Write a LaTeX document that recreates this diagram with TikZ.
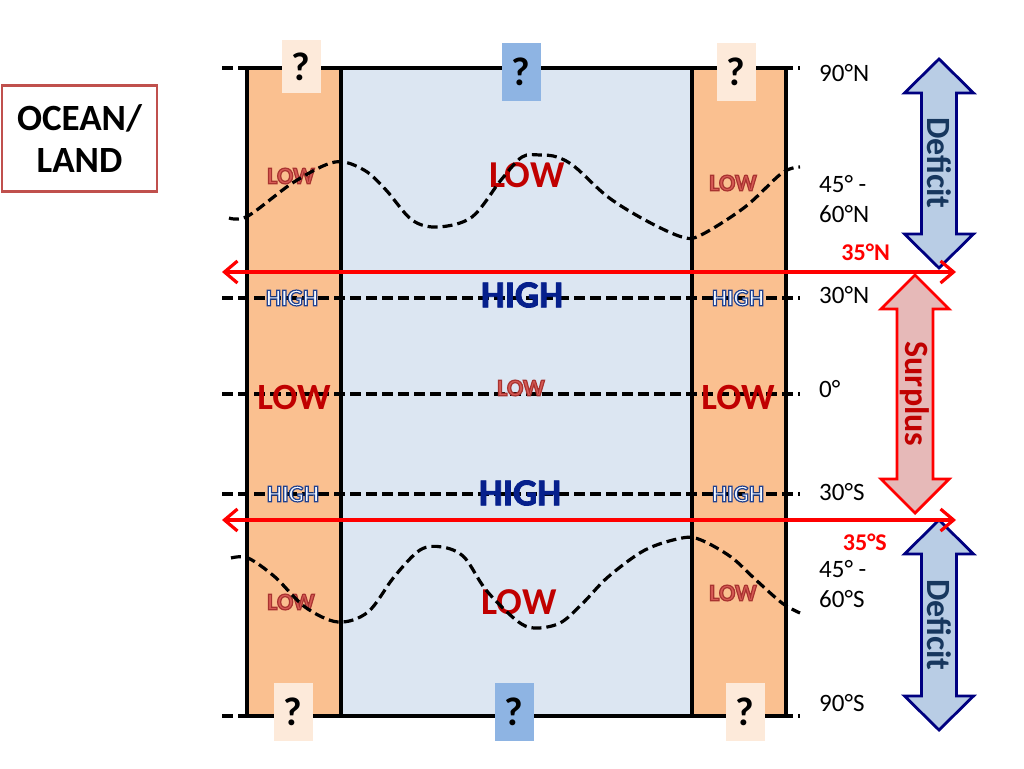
\documentclass[tikz,border=0pt]{standalone}
\usepackage{fontspec}
\setmainfont{Carlito}
\usetikzlibrary{arrows.meta}
\definecolor{land}{HTML}{FAC090}
\definecolor{ocean}{HTML}{DCE6F2}
\definecolor{qland}{HTML}{FDEADA}
\definecolor{qocean}{HTML}{8EB4E3}
\definecolor{darkred}{HTML}{C00000}
\definecolor{lowsm}{HTML}{D65A55}
\definecolor{highbig}{HTML}{06208C}
\definecolor{highin}{HTML}{F4F8FD}
\definecolor{defnavy}{HTML}{000080}
\definecolor{deffill}{HTML}{B9CDE5}
\definecolor{deftext}{HTML}{17375E}
\definecolor{surfill}{HTML}{E6B9B8}
\definecolor{boxred}{HTML}{C0504D}
\definecolor{redline}{HTML}{FF0000}

% outlined text: #1 stroke width, #2 stroke rgb, #3 fill colour, #4 text
\newcommand{\outltxt}[4]{{\color{#3}\special{pdf:literal direct #2 RG #1 w 2 Tr}#4\special{pdf:literal direct 0 Tr}}}

\newcommand{\blockarrow}[7]{% cx, top, bottom, head half width, shaft half width, head length, style
 \draw[#7] (#1,#2) -- ({#1+#4},{#2+#6}) -- ({#1+#5},{#2+#6}) -- ({#1+#5},{#3-#6})
   -- ({#1+#4},{#3-#6}) -- (#1,#3) -- ({#1-#4},{#3-#6}) -- ({#1-#5},{#3-#6})
   -- ({#1-#5},{#2+#6}) -- ({#1-#4},{#2+#6}) -- cycle;}

\begin{document}
\begin{tikzpicture}[x=1pt,y=-1pt,
  lbl/.style={inner sep=0pt,anchor=west,font=\fontsize{25}{30}\selectfont,align=left},
  lat/.style={inner sep=0pt,anchor=east,text=redline,font=\fontsize{24}{26}\selectfont\bfseries},
  dashln/.style={line width=3.2pt,dash pattern=on 11pt off 5pt},
  wave/.style={line width=3.2pt,dash pattern=on 10pt off 5pt,smooth,tension=0.55},
  border/.style={line width=3.2pt,black},
  bigtxt/.style={inner sep=0pt,font=\fontsize{38}{40}\selectfont\bfseries},
  smtxt/.style={inner sep=0pt,font=\fontsize{24}{26}\selectfont\bfseries},
  qland/.style={fill=qland,minimum width=39pt,inner sep=0pt,font=\fontsize{40}{40}\selectfont\bfseries},
  qocean/.style={fill=qocean,minimum width=39pt,inner sep=0pt,font=\fontsize{40}{40}\selectfont\bfseries},
  redarrow/.style={line width=3.2pt,redline,{Straight Barb[length=13pt,width=22pt]}-{Straight Barb[length=13pt,width=22pt]}},
  defarrow/.style={fill=deffill,draw=defnavy,line width=2.8pt,line join=miter},
  surarrow/.style={fill=surfill,draw=redline,line width=2.8pt,line join=miter},
  arrtxt/.style={inner sep=0pt,rotate=-90,font=\fontsize{34}{36}\selectfont\bfseries}]
\useasboundingbox (0,0) rectangle (1024,768);

% strips
\fill[land] (247,68) rectangle (341,716);
\fill[ocean] (341,68) rectangle (692,716);
\fill[land] (692,68) rectangle (786,716);

% latitude dashed lines
\foreach \yy in {68,298,394,494,716} \draw[dashln] (222,\yy) -- (800,\yy);

% small LOW labels (under the wavy lines)
\node[smtxt] (lowNL) at (291,176) {\outltxt{1.2}{0.66 0.2 0.19}{lowsm}{LOW}};
\node[smtxt] (lowNR) at (733,183) {\outltxt{1.2}{0.66 0.2 0.19}{lowsm}{LOW}};
\node[smtxt] (lowEq) at (521,388) {\outltxt{1.2}{0.66 0.2 0.19}{lowsm}{LOW}};
\node[smtxt] (lowSL) at (291,602) {\outltxt{1.2}{0.66 0.2 0.19}{lowsm}{LOW}};
\node[smtxt] (lowSR) at (733,593) {\outltxt{1.2}{0.66 0.2 0.19}{lowsm}{LOW}};

% big LOW labels
\node[bigtxt] (lowN) at (527,175) {\textcolor{darkred}{LOW}};
\node[bigtxt] (lowS) at (519,602) {\textcolor{darkred}{LOW}};
\node[bigtxt,font=\fontsize{37}{40}\selectfont\bfseries] (lowEL) at (294,397) {\textcolor{darkred}{LOW}};
\node[bigtxt,font=\fontsize{37}{40}\selectfont\bfseries] (lowER) at (738,397) {\textcolor{darkred}{LOW}};

% wavy boundaries
\draw[wave] plot coordinates {(229,218) (248,216) (294,182) (335,162) (364,170) (386,190) (412,220) (438,227) (472,217) (501,180) (522,157) (540,155) (557,157) (575,167) (608,197) (645,220) (682,237) (701,235) (745,207) (782,173) (800,167)};
\draw[wave] plot coordinates {(231,558) (248,558) (275,577) (305,607) (338,622) (368,612) (394,577) (420,550) (442,547) (464,557) (486,590) (516,620) (534,628) (560,623) (583,603) (608,577) (645,550) (682,538) (701,540) (731,557) (756,580) (782,603) (800,613)};

% borders
\draw[border] (247,68) rectangle (786,716);
\draw[border] (341,68) -- (341,716);
\draw[border] (692,68) -- (692,716);

% HIGH labels
\node[bigtxt] (highN) at (522,295) {\outltxt{0.8}{0.02 0.12 0.55}{highbig}{HIGH}};
\node[bigtxt] (highS) at (520,493) {\outltxt{0.8}{0.02 0.12 0.55}{highbig}{HIGH}};
\node[smtxt] (highNL) at (292,298) {\outltxt{1.2}{0.12 0.25 0.56}{highin}{HIGH}};
\node[smtxt] (highNR) at (738,298) {\outltxt{1.2}{0.12 0.25 0.56}{highin}{HIGH}};
\node[smtxt] (highSL) at (293,494) {\outltxt{1.2}{0.12 0.25 0.56}{highin}{HIGH}};
\node[smtxt] (highSR) at (738,494) {\outltxt{1.2}{0.12 0.25 0.56}{highin}{HIGH}};

% question boxes
\node[qland,minimum height=53pt] (qTL) at (301,66.5) {?};
\node[qocean,minimum height=58pt] (qTC) at (521,72) {?};
\node[qland,minimum height=58pt] (qTR) at (736,72) {?};
\node[qland,minimum height=58pt] (qBL) at (293,712) {?};
\node[qocean,minimum height=58pt] (qBC) at (514,712) {?};
\node[qland,minimum height=58pt] (qBR) at (745,712) {?};

% ocean/land box
\node[draw=boxred,line width=2.4pt,minimum width=155pt,minimum height=106pt,inner sep=0pt,
  align=center,font=\fontsize{37}{42}\selectfont\bfseries] (oceanland) at (79.5,138.5) {OCEAN/\\LAND};

% latitude labels
\node[lbl] (l90N) at (819,73) {90°N};
\node[lbl] (l45N) at (819,199) {45° -\\60°N};
\node[lbl] (l30N) at (819,295) {30°N};
\node[lbl] (l0) at (819,389) {0°};
\node[lbl] (l30S) at (819,492) {30°S};
\node[lbl] (l45S) at (819,584) {45° -\\60°S};
\node[lbl] (l90S) at (819,703) {90°S};
\node[lat] (l35N) at (890,252) {35°N};
\node[lat] (l35S) at (887,542) {35°S};

% block arrows
\blockarrow{939}{59}{268}{34.5}{17.5}{34}{defarrow}
\blockarrow{915}{275}{513}{34}{18}{34}{surarrow}
\blockarrow{939}{520}{730}{34.5}{17.5}{34}{defarrow}
\node[arrtxt,text=deftext] (defN) at (939,163) {Deficit};
\node[arrtxt,text=darkred] (surp) at (915,394) {Surplus};
\node[arrtxt,text=deftext] (defS) at (939,625) {Deficit};

% 35 degree lines
\coordinate (n35L) at (222,272);
\coordinate (n35R) at (956,272);
\coordinate (s35L) at (222,520);
\coordinate (s35R) at (956,520);
\draw[redarrow] (n35L) -- (n35R);
\draw[redarrow] (s35L) -- (s35R);
\end{tikzpicture}
\end{document}
